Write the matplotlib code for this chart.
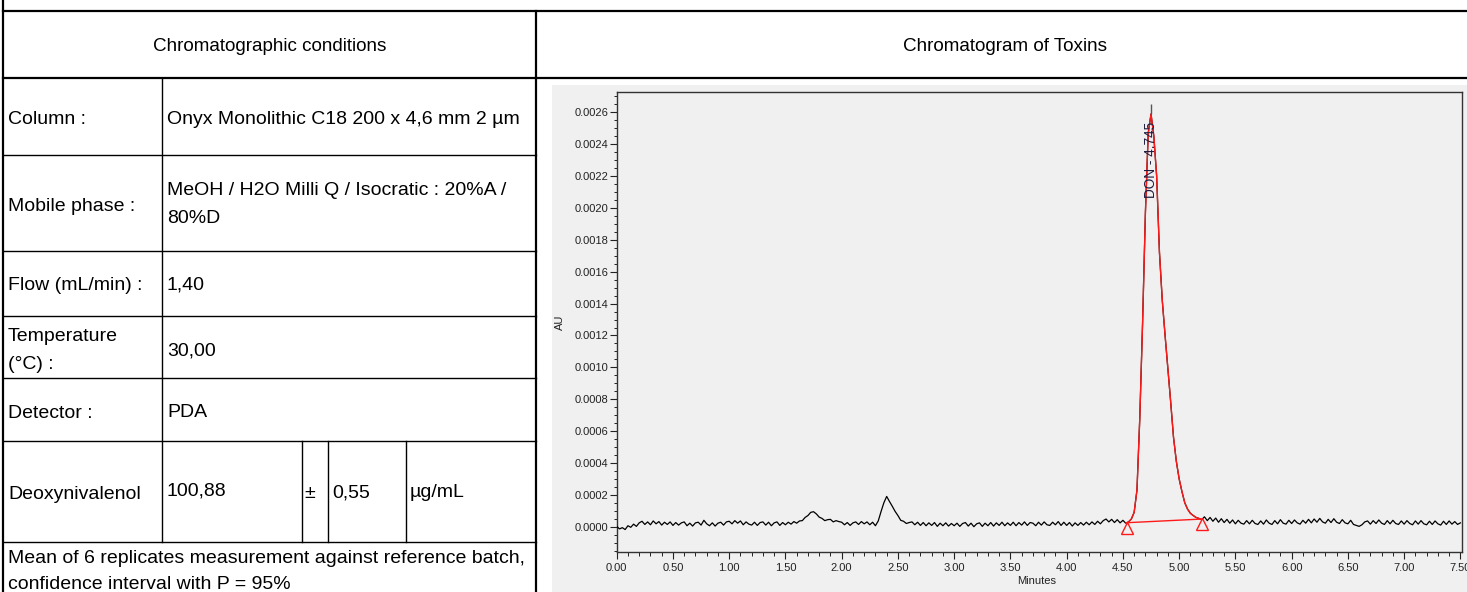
import numpy as np
import matplotlib
matplotlib.use('Agg')
import matplotlib.pyplot as plt
from matplotlib.lines import Line2D
from matplotlib.patches import Rectangle
import matplotlib.transforms as mtransforms
from matplotlib.ticker import MultipleLocator, FormatStrFormatter

plt.rcParams['font.family'] = ['Liberation Sans', 'DejaVu Sans']

# ---------------- data ----------------
header_left = "Chromatographic conditions"
header_right = "Chromatogram of Toxins"
cond_labels = [["Column :"], ["Mobile phase :"], ["Flow (mL/min) :"],
               ["Temperature", "(°C) :"], ["Detector :"]]
cond_values = [["Onyx Monolithic C18 200 x 4,6 mm 2 µm"],
               ["MeOH / H2O Milli Q / Isocratic : 20%A /", "80%D"],
               ["1,40"], ["30,00"], ["PDA"]]
analyte = "Deoxynivalenol"
assay_value = "100,88"
assay_pm = "±"
assay_ci = "0,55"
assay_unit = "µg/mL"
footnote = ["Mean of 6 replicates measurement against reference batch,",
            "confidence interval with P = 95%"]

t_start = 0.0
t_step = 0.025
# detector signal in micro-AU, one value every 0.025 min from 0.00 to 7.50
signal_uAU = [
    2, -14, -6, -18, 6, -4, 16, 2, 24, 34, 14, 30, 12, 36, 18, 32, 10, 28, 14, 30,
    8, 26, 10, 24, 30, 6, 22, 4, 24, 28, 10, 40, 18, 6, 24, 4, 22, 28, 10, 30,
    34, 18, 38, 22, 36, 12, 30, 16, 10, 28, 8, 26, 30, 10, 28, 6, 24, 30, 8, 26,
    12, 28, 16, 32, 22, 36, 38, 58, 70, 90, 94, 80, 60, 52, 38, 44, 46, 30, 38, 32,
    28, 12, 26, 8, 24, 30, 14, 32, 18, 30, 12, 28, 6, 36, 95, 150, 190, 158, 128, 96,
    70, 40, 34, 20, 26, 30, 12, 28, 8, 26, 6, 24, 8, 26, 2, 22, 6, 24, 4, 20,
    6, 22, 2, 20, 26, 4, 22, 0, 18, 24, 2, 22, 6, 26, 4, 24, 8, 28, 6, 24,
    8, 28, 6, 26, 10, 30, 8, 26, 22, 6, 28, 10, 30, 12, 8, 28, 12, 32, 8, 28,
    8, 26, 4, 24, 8, 26, 10, 28, 12, 30, 14, 34, 18, 38, 48, 30, 46, 26, 44, 24,
    40, 22, 30, 48, 90, 230, 680, 1280, 1970, 2470, 2590, 2450, 2200, 1720, 1420, 1200, 990, 780, 560, 410,
    300, 220, 150, 110, 84, 70, 58, 52, 44, 62, 38, 58, 34, 54, 28, 50, 26, 46, 22, 42,
    18, 40, 22, 16, 38, 18, 40, 20, 14, 36, 16, 42, 22, 14, 38, 18, 44, 22, 16, 40,
    20, 42, 24, 16, 40, 22, 46, 24, 48, 28, 52, 30, 22, 46, 26, 50, 28, 20, 44, 24,
    18, 40, 14, 8, 2, 12, 30, 36, 16, 38, 20, 42, 22, 14, 38, 18, 40, 20, 14, 36,
    16, 38, 20, 12, 36, 16, 38, 18, 12, 34, 14, 36, 18, 10, 34, 14, 36, 16, 32, 14,
    24,
]
peak_name = "DON"
peak_rt = 4.745
peak_apex_uAU = 2590
peak_start = (4.537, 25)   # (min, micro-AU)
peak_end = (5.205, 48)
x_label = "Minutes"
y_label = "AU"

# ---------------- layout ----------------
W, H, DPI = 1467, 592, 100
fig = plt.figure(figsize=(W / DPI, H / DPI), dpi=DPI)
fig.patch.set_facecolor('white')


def fx(x):
    return x / W


def fy(y):
    return 1 - y / H


def hline(y, x0, x1, lw):
    fig.add_artist(Line2D([fx(x0), fx(x1)], [fy(y), fy(y)], color='black', lw=lw,
                          transform=fig.transFigure, solid_capstyle='projecting', zorder=5))


def vline(x, y0, y1, lw):
    fig.add_artist(Line2D([fx(x), fx(x)], [fy(y0), fy(y1)], color='black', lw=lw,
                          transform=fig.transFigure, solid_capstyle='projecting', zorder=5))


# gray chromatogram panel
fig.add_artist(Rectangle((fx(552), 0), 1 - fx(552), fy(85), facecolor='#f0f0f0',
                         edgecolor='none', transform=fig.transFigure, zorder=-1))

OUT, IN = 1.6, 1.0
hline(11, 3, 1467, OUT)
hline(78, 3, 1467, OUT)
vline(3, 0, 592, OUT)
vline(536, 11, 592, OUT)
for yy in [155, 251, 316, 378, 441, 542]:
    hline(yy, 3, 536, IN)
vline(162, 78, 542, IN)
for xx in [302, 328, 406]:
    vline(xx, 441, 542, IN)

FS = 14
FSH = 13.6


def txt(x, y, s, ha='left', fs=FS):
    fig.text(fx(x), fy(y), s, ha=ha, va='baseline', fontsize=fs, color='black')


txt(270, 51, header_left, ha='center', fs=FSH)
txt(1005, 51, header_right, ha='center', fs=FSH)

label_baselines = [[124], [211], [290], [341, 369], [418]]
value_baselines = [[124], [195, 223], [290], [356], [417]]
for labs, vals, lb, vb in zip(cond_labels, cond_values, label_baselines, value_baselines):
    for s, b in zip(labs, lb):
        txt(8, b, s)
    for s, b in zip(vals, vb):
        txt(167, b, s)

txt(8, 499, analyte)
txt(167, 495, assay_value)
txt(310, 498, assay_pm, ha='center')
txt(332, 497, assay_ci)
txt(410, 497, assay_unit)
txt(8, 563, footnote[0])
txt(8, 589, footnote[1])

# ---------------- chromatogram ----------------
left, right, bottom, top = 616.7, 1461.5, 551.7, 91.7
ax = fig.add_axes([fx(left), fy(bottom), fx(right) - fx(left), fy(top) - fy(bottom)])
ax.set_facecolor('#f0f0f0')

sig = np.array(signal_uAU, dtype=float) * 1e-6
t = t_start + t_step * np.arange(len(sig))

ax.plot(t, sig, color='black', lw=0.9, zorder=3)
mask = (t >= peak_start[0] - 0.013) & (t <= peak_end[0])
ax.plot(t[mask], sig[mask], color='#ff1a1a', lw=1.0, zorder=4)
ax.plot([peak_start[0], peak_end[0]], [peak_start[1] * 1e-6, peak_end[1] * 1e-6],
        color='#ff1a1a', lw=1.0, zorder=4)
tri_tr = mtransforms.offset_copy(ax.transData, fig=fig, x=0, y=-5, units='dots')
ax.plot([peak_start[0], peak_end[0]], [peak_start[1] * 1e-6, peak_end[1] * 1e-6],
        ls='none', marker='^', ms=8, mfc='none', mec='#ff1a1a', mew=1.0,
        transform=tri_tr, zorder=5)
ax.vlines(4.751, peak_apex_uAU * 1e-6, peak_apex_uAU * 1e-6 + 0.00006, color='#555555', lw=1.0, zorder=5)
ax.text(4.748, 0.00230, f"{peak_name} - {peak_rt:.3f}", rotation=90, ha='center', va='center',
        fontsize=9.8, color='#1c1c40', zorder=6)

ax.set_xlim(0, 7.51)
ax.set_ylim(-0.000157, 0.00273)
ax.xaxis.set_major_locator(MultipleLocator(0.5))
ax.xaxis.set_minor_locator(MultipleLocator(0.1))
ax.yaxis.set_major_locator(MultipleLocator(0.0002))
ax.yaxis.set_minor_locator(MultipleLocator(0.00005))
ax.xaxis.set_major_formatter(FormatStrFormatter('%.2f'))
ax.yaxis.set_major_formatter(FormatStrFormatter('%.4f'))
ax.tick_params(which='major', direction='out', length=4.8, width=0.8, labelsize=8,
               color='#222222', labelcolor='#222222')
ax.tick_params(which='minor', direction='out', length=2.4, width=0.7, color='#222222')
ax.tick_params(axis='y', which='major', pad=1.2)
ax.tick_params(axis='x', which='major', pad=3.2)
ax.tick_params(axis='x', which='minor', length=3.0)
for sp in ax.spines.values():
    sp.set_color('#333333')
    sp.set_linewidth(1.0)

fig.text(fx(560), fy(322), y_label, rotation=90, ha='center', va='center', fontsize=8, color='#222222')
fig.text(fx(1037), fy(581), x_label, ha='center', va='center', fontsize=8, color='#222222')

fig.savefig('out.png', dpi=DPI, facecolor='white')
